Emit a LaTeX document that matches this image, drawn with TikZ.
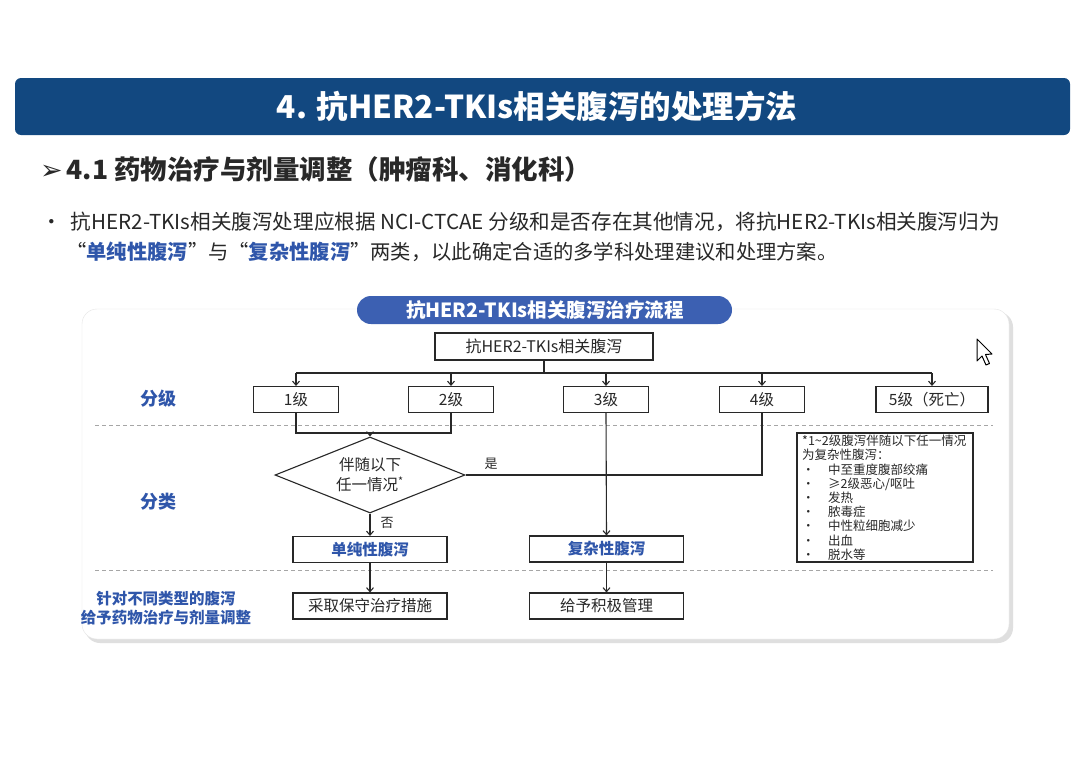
\documentclass[tikz,border=0pt]{standalone}
\usepackage{fontspec}
\setmainfont{Noto Sans CJK SC}
\newfontfamily\dejavu{DejaVu Sans}
\usetikzlibrary{shapes.geometric,arrows.meta}
\definecolor{banner}{RGB}{18,72,128}
\definecolor{pill}{RGB}{60,96,178}
\definecolor{lblue}{RGB}{47,86,170}
\definecolor{ink}{RGB}{40,40,40}
\tikzset{
  box/.style={draw=ink,line width=1.1pt,fill=white,minimum height=26pt,inner sep=0pt,font=\fontsize{15.5}{17}\selectfont,text=ink},
  gbox/.style={box,minimum width=85pt},
  wbox/.style={box,minimum width=154pt},
  conn/.style={draw=ink,line width=1.1pt},
  arr/.style={conn,-{Straight Barb[length=4pt,width=7pt]}},
  sep/.style={draw=gray!70,line width=0.8pt,dash pattern=on 4pt off 3pt},
  side/.style={text=lblue,font=\fontsize{18}{21}\selectfont\bfseries,align=center},
}
\begin{document}
\begin{tikzpicture}[x=1pt,y=-1pt]
\useasboundingbox (0,0) rectangle (1080,763);
\fill[white] (0,0) rectangle (1080,763);
% banner
\fill[banner,rounded corners=6pt] (15,78) rectangle (1070,135);
\node[text=white,font=\fontsize{31.5}{34}\selectfont\bfseries] (title) at (537,106) {4. 抗HER2-TKIs相关腹泻的处理方法};
% subheading
\node[anchor=west,text=ink,font=\fontsize{26.5}{30}\selectfont\bfseries,inner sep=0pt] (sub) at (40,169) {{\dejavu\bfseries\fontsize{27}{28}\selectfont ➢}\hspace{4pt}4.1 药物治疗与剂量调整（肿瘤科、消化科）};
% bullet text
\node[anchor=west,text=ink,font=\fontsize{20.6}{24}\selectfont,inner sep=0pt] (b1) at (41,222) {•\hspace{9pt}抗HER2-TKIs相关腹泻处理应根据 NCI-CTCAE 分级和是否存在其他情况，将抗HER2-TKIs相关腹泻归为};
\node[anchor=west,text=ink,font=\fontsize{20.3}{24}\selectfont,inner sep=0pt] (b2) at (66,252) {“\textcolor{lblue}{\bfseries 单纯性腹泻}”与“\textcolor{lblue}{\bfseries 复杂性腹泻}”两类，以此确定合适的多学科处理建议和处理方案。};
% card
\fill[gray!25,rounded corners=15pt] (85,312) rectangle (1013,643);
\filldraw[fill=white,draw=gray!20,rounded corners=15pt] (82,309) rectangle (1009,639);
% pill
\fill[pill,rounded corners=14pt] (357,296) rectangle (732,324);
\node[text=white,font=\fontsize{19.5}{21}\selectfont\bfseries] (pt) at (545,310) {抗HER2-TKIs相关腹泻治疗流程};
% cursor
\filldraw[fill=white,draw=black,line width=1pt,line join=round] (977,339) -- (977,361) -- (982,356) -- (986,365) -- (989.5,363.5) -- (985.5,354.5) -- (992,354) -- cycle;
% separators
\draw[sep] (95,425) -- (993,425);
\draw[sep] (95,570) -- (993,570);
% side labels
\node[side] (l1) at (158,399) {分级};
\node[side] (l2) at (158,502) {分类};
\node[side,font=\fontsize{15.5}{19}\selectfont\bfseries] (l3) at (166,608) {针对不同类型的腹泻\\给予药物治疗与剂量调整};
% nodes
\node[box,minimum width=218pt,minimum height=27pt,font=\fontsize{16}{18}\selectfont] (top) at (544,346.5) {抗HER2-TKIs相关腹泻};
\node[gbox] (g1) at (296,399.5) {1级};
\node[gbox] (g2) at (451,399.5) {2级};
\node[gbox] (g3) at (606,399.5) {3级};
\node[gbox] (g4) at (762,399.5) {4级};
\node[gbox,minimum width=112pt] (g5) at (932,399.5) {5级（死亡）};
\node[draw=ink,line width=1.1pt,fill=white,shape=diamond,aspect=2.5,minimum width=190pt,minimum height=76pt,inner sep=0pt,align=center,text=ink,font=\fontsize{15.5}{20}\selectfont] (dia) at (370,475) {伴随以下\\任一情况\textsuperscript{*}};
\node[wbox,font=\fontsize{15.5}{17}\selectfont\bfseries,text=lblue] (sp) at (370,549.5) {单纯性腹泻};
\node[wbox,font=\fontsize{15.5}{17}\selectfont\bfseries,text=lblue] (cx) at (606.5,549) {复杂性腹泻};
\node[wbox] (a1) at (370,606) {采取保守治疗措施};
\node[wbox] (a2) at (606.5,606) {给予积极管理};
\node[draw=ink,line width=1.1pt,fill=white,minimum width=176pt,minimum height=129pt,inner sep=0pt] (note) at (885,497.5) {};
\node[anchor=north west,align=left,text=ink,inner sep=0pt,font=\fontsize{12.5}{14.2}\selectfont] (nt) at (802,435) {*1\textasciitilde2级腹泻伴随以下任一情况\\为复杂性腹泻：\\
\makebox[26pt][l]{•}中至重度腹部绞痛\\
\makebox[26pt][l]{•}≥2级恶心/呕吐\\
\makebox[26pt][l]{•}发热\\
\makebox[26pt][l]{•}脓毒症\\
\makebox[26pt][l]{•}中性粒细胞减少\\
\makebox[26pt][l]{•}出血\\
\makebox[26pt][l]{•}脱水等};
% connectors
\coordinate (hb) at (544,373);
\coordinate (mg) at (370,433);
\draw[conn] (top.south) -- (hb);
\draw[conn] (g1.north |- hb) -- (g5.north |- hb);
\foreach \g in {g1,g2,g3,g4,g5} \draw[arr] (\g.north |- hb) -- (\g.north);
\draw[conn] (g1.south) -- (g1.south |- mg) -- (g2.south |- mg) -- (g2.south);
\draw[arr] (mg) -- (dia.north);
\draw[conn] (dia.east) -| (g4.south);
\node[text=ink,font=\fontsize{13}{15}\selectfont] (yes) at (491,464) {是};
\draw[arr] (g3.south) -- (cx.north);
\draw[arr] (dia.south) -- (sp.north);
\node[text=ink,font=\fontsize{13}{15}\selectfont] (no) at (387,523) {否};
\draw[arr] (sp.south) -- (a1.north);
\draw[arr] (cx.south) -- (a2.north);
\end{tikzpicture}
\end{document}
